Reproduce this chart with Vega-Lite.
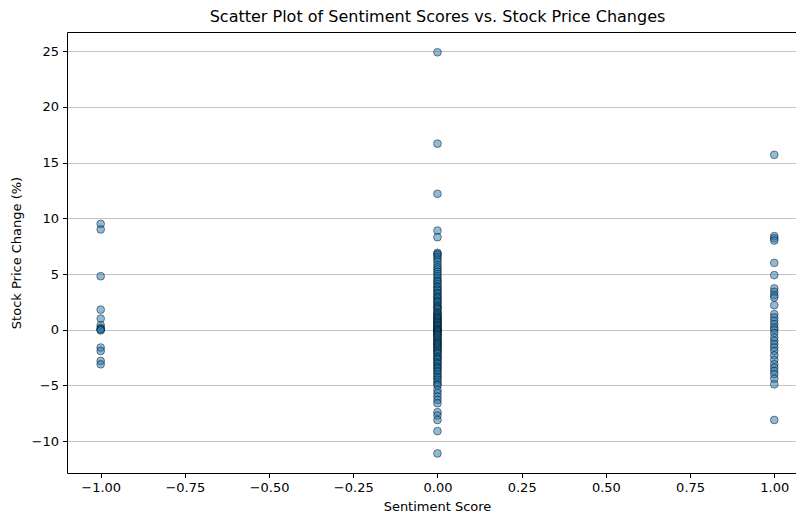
{
  "$schema": "https://vega.github.io/schema/vega-lite/v6.json",
  "width": 729,
  "height": 441,
  "autosize": {"type": "none"},
  "padding": {"left": 67, "top": 32, "right": 0, "bottom": 42},
  "background": "white",
  "title": {
    "text": "Scatter Plot of Sentiment Scores vs. Stock Price Changes",
    "font": "DejaVu Sans",
    "fontSize": 16,
    "fontWeight": "normal",
    "color": "black",
    "anchor": "middle",
    "dx": 6,
    "offset": 7
  },
  "config": {
    "view": {"stroke": null},
    "axis": {
      "labelFont": "DejaVu Sans",
      "labelFontSize": 13,
      "labelColor": "black",
      "titleFont": "DejaVu Sans",
      "titleFontSize": 13,
      "titleFontWeight": "normal",
      "titleColor": "black",
      "domainColor": "black",
      "domainWidth": 1,
      "tickColor": "black",
      "tickSize": 4.5,
      "tickWidth": 1,
      "labelPadding": 4,
      "gridColor": "#c4c4c4",
      "gridWidth": 1.1,
      "gridOpacity": 1
    }
  },
  "data": {
    "values": [
      {"sentiment": -1, "change": 9.5},
      {"sentiment": -1, "change": 9.0},
      {"sentiment": -1, "change": 4.8},
      {"sentiment": -1, "change": 1.8},
      {"sentiment": -1, "change": 1.0},
      {"sentiment": -1, "change": 0.4},
      {"sentiment": -1, "change": 0.15},
      {"sentiment": -1, "change": 0.05},
      {"sentiment": -1, "change": 0.0},
      {"sentiment": -1, "change": -0.05},
      {"sentiment": -1, "change": -1.6},
      {"sentiment": -1, "change": -1.9},
      {"sentiment": -1, "change": -2.8},
      {"sentiment": -1, "change": -3.1},
      {"sentiment": 1, "change": 15.7},
      {"sentiment": 1, "change": 8.4},
      {"sentiment": 1, "change": 8.2},
      {"sentiment": 1, "change": 8.0},
      {"sentiment": 1, "change": 6.0},
      {"sentiment": 1, "change": 4.9},
      {"sentiment": 1, "change": 3.7},
      {"sentiment": 1, "change": 3.4},
      {"sentiment": 1, "change": 3.1},
      {"sentiment": 1, "change": 2.9},
      {"sentiment": 1, "change": 2.2},
      {"sentiment": 1, "change": 1.4},
      {"sentiment": 1, "change": 1.1},
      {"sentiment": 1, "change": 0.8},
      {"sentiment": 1, "change": 0.5},
      {"sentiment": 1, "change": 0.2},
      {"sentiment": 1, "change": 0.0},
      {"sentiment": 1, "change": -0.3},
      {"sentiment": 1, "change": -0.7},
      {"sentiment": 1, "change": -1.0},
      {"sentiment": 1, "change": -1.3},
      {"sentiment": 1, "change": -1.6},
      {"sentiment": 1, "change": -1.9},
      {"sentiment": 1, "change": -2.3},
      {"sentiment": 1, "change": -2.7},
      {"sentiment": 1, "change": -3.1},
      {"sentiment": 1, "change": -3.4},
      {"sentiment": 1, "change": -3.7},
      {"sentiment": 1, "change": -4.0},
      {"sentiment": 1, "change": -4.4},
      {"sentiment": 1, "change": -4.9},
      {"sentiment": 1, "change": -8.1},
      {"sentiment": 0, "change": 24.9},
      {"sentiment": 0, "change": 16.7},
      {"sentiment": 0, "change": 12.2},
      {"sentiment": 0, "change": 8.9},
      {"sentiment": 0, "change": 8.3},
      {"sentiment": 0, "change": 6.9},
      {"sentiment": 0, "change": 6.8},
      {"sentiment": 0, "change": 6.7},
      {"sentiment": 0, "change": 6.5},
      {"sentiment": 0, "change": 6.3},
      {"sentiment": 0, "change": 6.1},
      {"sentiment": 0, "change": 5.8},
      {"sentiment": 0, "change": 5.6},
      {"sentiment": 0, "change": 5.4},
      {"sentiment": 0, "change": 5.2},
      {"sentiment": 0, "change": 5.0},
      {"sentiment": 0, "change": 4.8},
      {"sentiment": 0, "change": 4.6},
      {"sentiment": 0, "change": 4.4},
      {"sentiment": 0, "change": 4.3},
      {"sentiment": 0, "change": 4.1},
      {"sentiment": 0, "change": 3.9},
      {"sentiment": 0, "change": 3.8},
      {"sentiment": 0, "change": 3.6},
      {"sentiment": 0, "change": 3.5},
      {"sentiment": 0, "change": 3.3},
      {"sentiment": 0, "change": 3.2},
      {"sentiment": 0, "change": 3.0},
      {"sentiment": 0, "change": 2.9},
      {"sentiment": 0, "change": 2.8},
      {"sentiment": 0, "change": 2.6},
      {"sentiment": 0, "change": 2.5},
      {"sentiment": 0, "change": 2.4},
      {"sentiment": 0, "change": 2.2},
      {"sentiment": 0, "change": 2.1},
      {"sentiment": 0, "change": 2.0},
      {"sentiment": 0, "change": 1.9},
      {"sentiment": 0, "change": 1.8},
      {"sentiment": 0, "change": 1.6},
      {"sentiment": 0, "change": 1.5},
      {"sentiment": 0, "change": 1.4},
      {"sentiment": 0, "change": 1.3},
      {"sentiment": 0, "change": 1.2},
      {"sentiment": 0, "change": 1.1},
      {"sentiment": 0, "change": 1.05},
      {"sentiment": 0, "change": 1.0},
      {"sentiment": 0, "change": 0.9},
      {"sentiment": 0, "change": 0.8},
      {"sentiment": 0, "change": 0.7},
      {"sentiment": 0, "change": 0.65},
      {"sentiment": 0, "change": 0.6},
      {"sentiment": 0, "change": 0.5},
      {"sentiment": 0, "change": 0.4},
      {"sentiment": 0, "change": 0.35},
      {"sentiment": 0, "change": 0.3},
      {"sentiment": 0, "change": 0.2},
      {"sentiment": 0, "change": 0.1},
      {"sentiment": 0, "change": 0.0},
      {"sentiment": 0, "change": 0.0},
      {"sentiment": 0, "change": 0.0},
      {"sentiment": 0, "change": -0.1},
      {"sentiment": 0, "change": -0.15},
      {"sentiment": 0, "change": -0.2},
      {"sentiment": 0, "change": -0.3},
      {"sentiment": 0, "change": -0.4},
      {"sentiment": 0, "change": -0.45},
      {"sentiment": 0, "change": -0.5},
      {"sentiment": 0, "change": -0.6},
      {"sentiment": 0, "change": -0.7},
      {"sentiment": 0, "change": -0.8},
      {"sentiment": 0, "change": -0.9},
      {"sentiment": 0, "change": -1.0},
      {"sentiment": 0, "change": -1.1},
      {"sentiment": 0, "change": -1.2},
      {"sentiment": 0, "change": -1.25},
      {"sentiment": 0, "change": -1.3},
      {"sentiment": 0, "change": -1.4},
      {"sentiment": 0, "change": -1.5},
      {"sentiment": 0, "change": -1.6},
      {"sentiment": 0, "change": -1.7},
      {"sentiment": 0, "change": -1.8},
      {"sentiment": 0, "change": -1.9},
      {"sentiment": 0, "change": -2.0},
      {"sentiment": 0, "change": -2.1},
      {"sentiment": 0, "change": -2.2},
      {"sentiment": 0, "change": -2.4},
      {"sentiment": 0, "change": -2.5},
      {"sentiment": 0, "change": -2.6},
      {"sentiment": 0, "change": -2.7},
      {"sentiment": 0, "change": -2.9},
      {"sentiment": 0, "change": -3.0},
      {"sentiment": 0, "change": -3.1},
      {"sentiment": 0, "change": -3.3},
      {"sentiment": 0, "change": -3.4},
      {"sentiment": 0, "change": -3.5},
      {"sentiment": 0, "change": -3.7},
      {"sentiment": 0, "change": -3.8},
      {"sentiment": 0, "change": -4.0},
      {"sentiment": 0, "change": -4.2},
      {"sentiment": 0, "change": -4.3},
      {"sentiment": 0, "change": -4.5},
      {"sentiment": 0, "change": -4.7},
      {"sentiment": 0, "change": -4.9},
      {"sentiment": 0, "change": -5.0},
      {"sentiment": 0, "change": -5.4},
      {"sentiment": 0, "change": -5.7},
      {"sentiment": 0, "change": -6.0},
      {"sentiment": 0, "change": -6.3},
      {"sentiment": 0, "change": -6.6},
      {"sentiment": 0, "change": -7.4},
      {"sentiment": 0, "change": -7.7},
      {"sentiment": 0, "change": -8.1},
      {"sentiment": 0, "change": -9.1},
      {"sentiment": 0, "change": -11.1}
    ]
  },
  "layer": [
    {
      "mark": {"type": "point", "opacity": 0},
      "encoding": {
        "x": {
          "field": "sentiment",
          "type": "quantitative",
          "scale": {"domain": [-1.1, 1.0645], "nice": false, "zero": false},
          "axis": {
            "orient": "top",
            "labels": false,
            "ticks": false,
            "grid": false,
            "domain": true,
            "title": null
          }
        }
      }
    },
    {
      "mark": {
        "type": "point",
        "shape": "circle",
        "filled": true,
        "size": 60,
        "fill": "#1f77b4",
        "fillOpacity": 0.5,
        "stroke": "black",
        "strokeOpacity": 0.45,
        "strokeWidth": 1
      },
      "encoding": {
        "x": {
          "field": "sentiment",
          "type": "quantitative",
          "scale": {"domain": [-1.1, 1.0645], "nice": false, "zero": false},
          "axis": {
            "orient": "bottom",
            "title": "Sentiment Score",
            "values": [-1, -0.75, -0.5, -0.25, 0, 0.25, 0.5, 0.75, 1],
            "format": ".2f",
            "titleX": 370,
            "titlePadding": 6
          }
        },
        "y": {
          "field": "change",
          "type": "quantitative",
          "scale": {"domain": [-12.86, 26.72], "nice": false, "zero": false},
          "axis": {
            "title": "Stock Price Change (%)",
            "values": [-10, -5, 0, 5, 10, 15, 20, 25],
            "titlePadding": 8
          }
        }
      }
    }
  ],
  "resolve": {"axis": {"x": "independent"}}
}
